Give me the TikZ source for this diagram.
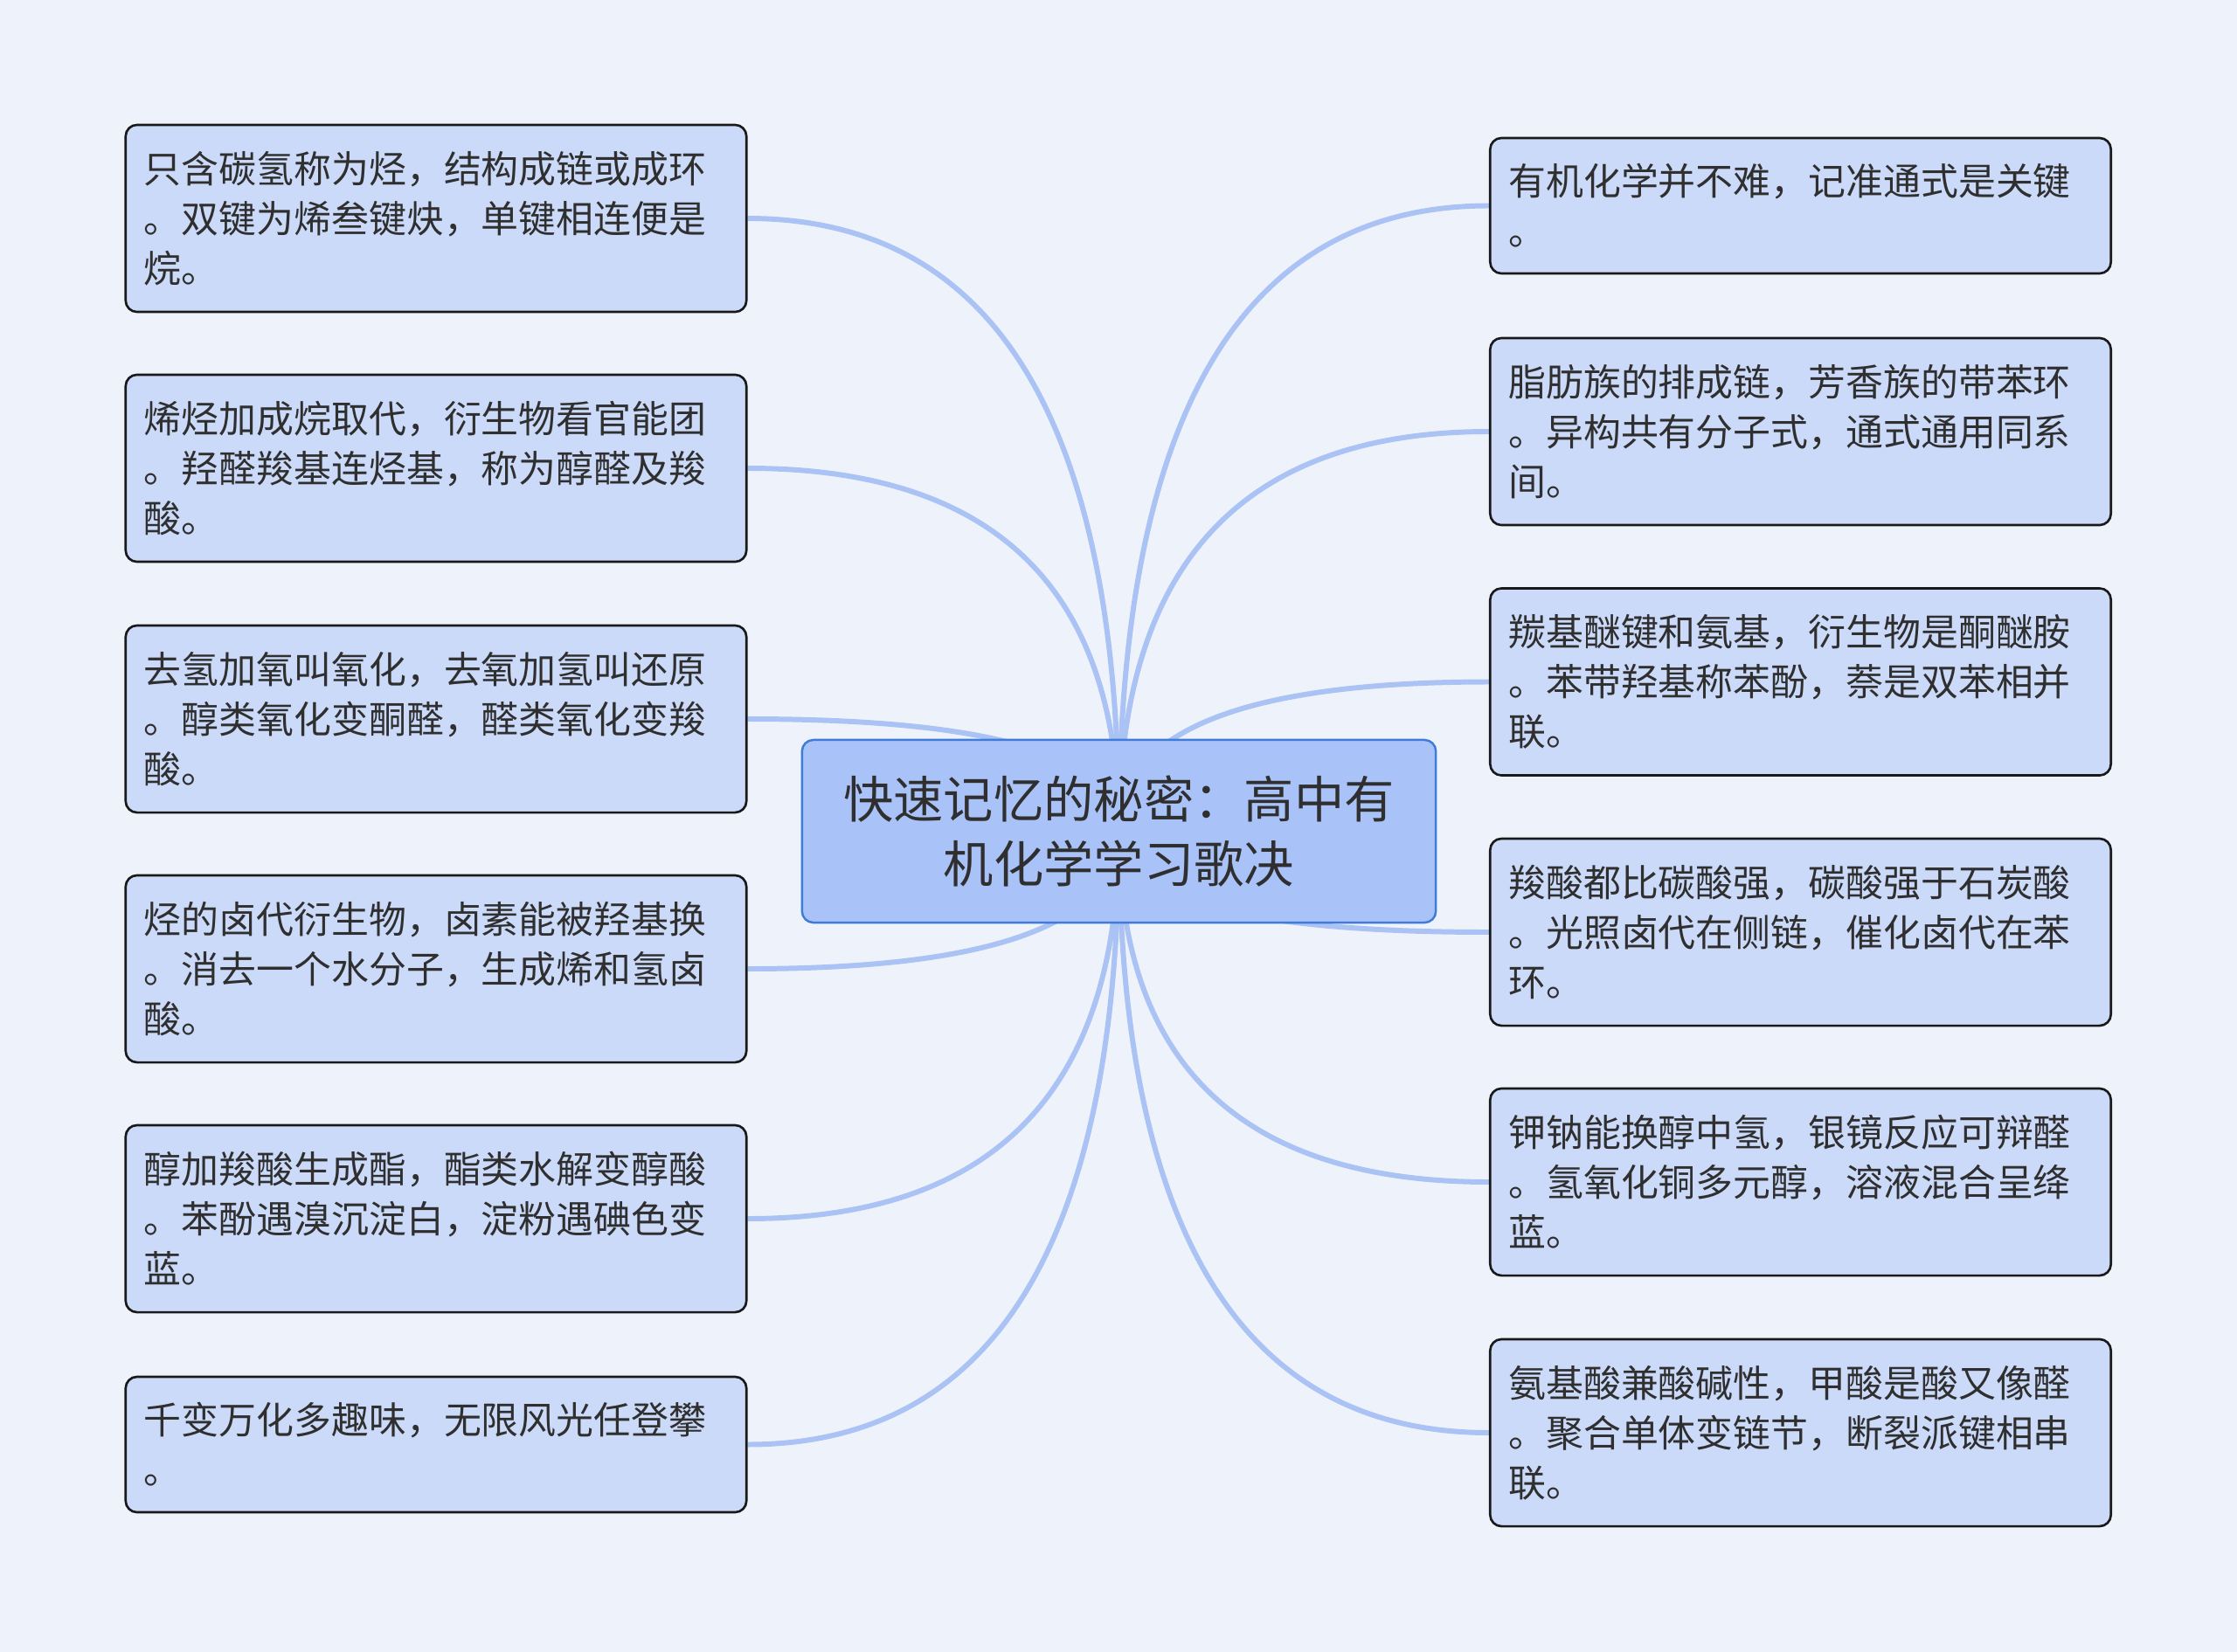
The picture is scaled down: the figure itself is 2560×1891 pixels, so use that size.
\documentclass[tikz,border=0pt]{standalone}
\usepackage{fontspec}
\setmainfont{Noto Sans CJK SC}
\usetikzlibrary{calc}
\definecolor{bgc}{HTML}{EEF3FB}
\definecolor{leaffill}{HTML}{CCDAF9}
\definecolor{rootfill}{HTML}{A9C2F8}
\definecolor{rootline}{HTML}{3F7BD8}
\definecolor{connc}{HTML}{ABC3F4}
\definecolor{txtc}{HTML}{2F2F2F}
\pgfdeclarelayer{bglayer}
\pgfsetlayers{bglayer,main}
\tikzset{
  leaf/.style={draw=black!90, line width=0.75pt, fill=leaffill, rounded corners=0.13cm,
    inner xsep=0.21cm, inner ysep=0pt, text width=6.68cm, align=left,
    font=\fontsize{12.2pt}{16.2pt}\selectfont, text=txtc},
  leafthree/.style={leaf, minimum height=2.14cm},
  leaftwo/.style={leaf, minimum height=1.55cm},
  rootbox/.style={draw=rootline, line width=0.7pt, fill=rootfill, rounded corners=0.13cm,
    minimum width=7.25cm, minimum height=2.09cm, align=center, inner sep=0pt,
    font=\fontsize{16.3pt}{20.9pt}\selectfont, text=txtc},
  conn/.style={draw=connc, line width=1.7pt}
}
\newcommand\conn[2]{\draw[conn] (#1.center) .. controls ($(#1.center)!0.667!(#1.center |- #2)$) and ($(#2)!0.667!(#1.center |- #2)$) .. (#2);}
\begin{document}
\begin{tikzpicture}[x=0.01cm,y=-0.01cm]
\useasboundingbox (0,0) rectangle (2560,1891);
\begin{pgfonlayer}{bglayer}
\fill[bgc] (0,0) rectangle (2560,1891);
\end{pgfonlayer}

\node[rootbox] (c) at (1280.5,951.5) {快速记忆的秘密：高中有\\机化学学习歌决};

\node[leafthree] (L1) at (499,250) {只含碳氢称为烃，结构成链或成环\\。双键为烯叁键炔，单键相连便是\\烷。};
\node[leafthree] (L2) at (499,536) {烯烃加成烷取代，衍生物看官能团\\。羟醛羧基连烃基，称为醇醛及羧\\酸。};
\node[leafthree] (L3) at (499,823) {去氢加氧叫氧化，去氧加氢叫还原\\。醇类氧化变酮醛，醛类氧化变羧\\酸。};
\node[leafthree] (L4) at (499,1109) {烃的卤代衍生物，卤素能被羟基换\\。消去一个水分子，生成烯和氢卤\\酸。};
\node[leafthree] (L5) at (499,1395) {醇加羧酸生成酯，酯类水解变醇酸\\。苯酚遇溴沉淀白，淀粉遇碘色变\\蓝。};
\node[leaftwo] (L6) at (499,1653.5) {千变万化多趣味，无限风光任登攀\\。};

\node[leaftwo] (R1) at (2060.5,235.5) {有机化学并不难，记准通式是关键\\。};
\node[leafthree] (R2) at (2060.5,494) {脂肪族的排成链，芳香族的带苯环\\。异构共有分子式，通式通用同系\\间。};
\node[leafthree] (R3) at (2060.5,780.5) {羰基醚键和氨基，衍生物是酮醚胺\\。苯带羟基称苯酚，萘是双苯相并\\联。};
\node[leafthree] (R4) at (2060.5,1067) {羧酸都比碳酸强，碳酸强于石炭酸\\。光照卤代在侧链，催化卤代在苯\\环。};
\node[leafthree] (R5) at (2060.5,1353) {钾钠能换醇中氢，银镜反应可辩醛\\。氢氧化铜多元醇，溶液混合呈绛\\蓝。};
\node[leafthree] (R6) at (2060.5,1640) {氨基酸兼酸碱性，甲酸是酸又像醛\\。聚合单体变链节，断裂派键相串\\联。};

\begin{pgfonlayer}{bglayer}
\conn{c}{L1.east}
\conn{c}{L2.east}
\conn{c}{L3.east}
\conn{c}{L4.east}
\conn{c}{L5.east}
\conn{c}{L6.east}
\conn{c}{R1.west}
\conn{c}{R2.west}
\conn{c}{R3.west}
\conn{c}{R4.west}
\conn{c}{R5.west}
\conn{c}{R6.west}
\end{pgfonlayer}
\end{tikzpicture}
\end{document}
